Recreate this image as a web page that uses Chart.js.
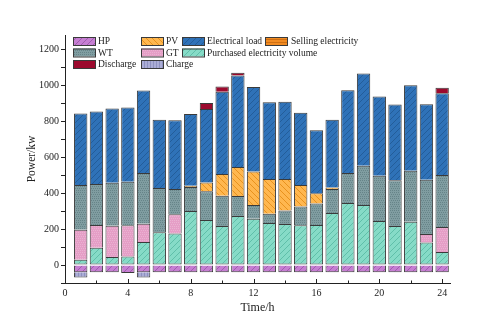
<!DOCTYPE html>
<html>
  <head>
    <title>Power balance - stacked bars</title>
    <script src="https://cdn.jsdelivr.net/npm/chart.js@4.4.0/dist/chart.umd.min.js"></script>
    <style>body{margin:0;background:#fff}</style>
  </head>
  <body>
    <canvas id="myChart" width="485" height="335"></canvas>
  </body>
  <script>
    // values (kW)
    const hours = [1,2,3,4,5,6,7,8,9,10,11,12,13,14,15,16,17,18,19,20,21,22,23,24]
    const purchased = [30,96,45,48,128,182,176,301,250,217,273,258,234,228,221,223,290,345,334,245,217,241,126,72]
    const gt = [167,127,174,173,102,0,106,0,0,0,0,0,0,0,0,0,0,0,0,0,0,0,47,140]
    const wt = [249,228,239,243,282,247,141,133,160,169,111,76,52,76,104,119,133,167,218,252,255,283,301,289]
    const pv = [0,0,0,0,0,0,0,7,49,121,162,186,193,175,121,57,9,0,0,0,0,0,0,0]
    const selling = [0,0,0,0,0,0,0,0,0,0,0,0,0,0,0,0,0,0,0,0,0,0,0,0]
    const load = [397,403,413,412,459,380,382,400,409,457,509,471,427,429,401,351,376,460,514,441,421,477,421,455]
    const discharge = [0,0,0,0,0,0,0,0,33,29,15,0,0,0,0,0,0,0,0,0,0,0,0,30]
    const hp = [-40,-40,-40,-45,-40,-40,-40,-40,-40,-40,-40,-40,-40,-40,-40,-40,-40,-40,-40,-40,-40,-40,-40,-40]
    const charge = [-30,0,0,0,-30,0,0,0,0,0,0,0,0,0,0,0,0,0,0,0,0,0,0,0]
    const yTicks = [0,200,400,600,800,1000,1200]
    const xTicks = [0,4,8,12,16,20,24]

    const ctx = document.getElementById('myChart').getContext('2d')

    function pattern(bg, fg, kind) {
      const c = document.createElement('canvas')
      c.width = 6
      c.height = 6
      const g = c.getContext('2d')
      g.fillStyle = bg
      g.fillRect(0, 0, 6, 6)
      g.strokeStyle = fg
      g.fillStyle = fg
      g.lineWidth = 1
      g.beginPath()
      if (kind === '/') {
        g.moveTo(-1, 7); g.lineTo(7, -1)
        g.moveTo(-4, 4); g.lineTo(4, -4)
        g.moveTo(2, 10); g.lineTo(10, 2)
        g.stroke()
      } else if (kind === '\\') {
        g.moveTo(-1, -1); g.lineTo(7, 7)
        g.moveTo(-4, 2); g.lineTo(4, 10)
        g.moveTo(2, -4); g.lineTo(10, 4)
        g.stroke()
      } else if (kind === '|') {
        g.fillRect(0, 0, 1, 6); g.fillRect(3, 0, 1, 6)
      } else if (kind === '-') {
        g.fillRect(0, 0, 6, 1); g.fillRect(0, 3, 6, 1)
      } else if (kind === '.') {
        for (let i = 0; i < 6; i += 2)
          for (let j = 0; j < 6; j += 2) g.fillRect(i + (j % 4 ? 1 : 0), j, 1, 1)
      }
      return ctx.createPattern(c, 'repeat')
    }

    const pts = arr => hours.map((h, i) => ({ x: h, y: arr[i] }))
    const edge = '#3a3a3a'
    const bar = (label, arr, fill, extra) => Object.assign({
      label, data: pts(arr), backgroundColor: fill,
      borderColor: edge, borderWidth: 1,
    }, extra || {})

    const datasets = [
      bar('Purchased electricity volume', purchased, pattern('#86dbc7', '#5fbfa9', '/'), { borderSkipped: false }),
      bar('GT', gt, pattern('#e59ec6', '#eab2d2', '.')),
      bar('WT', wt, pattern('#809da1', '#668488', '.')),
      bar('PV', pv, pattern('#ffb74f', '#e8921e', '\\')),
      bar('Selling electricity', selling, pattern('#f18b22', '#cf6f12', '-')),
      bar('Electrical load', load, pattern('#2f72b8', '#235d9a', '/')),
      bar('Discharge', discharge, '#9c0a2e'),
      bar('HP', hp, pattern('#c67fd2', '#a25cb0', '/')),
      bar('Charge', charge, pattern('#abadd6', '#8f91c0', '|')),
    ]

    const legendGrid = {
      id: 'legendGrid',
      afterDraw(chart, args, opts) {
        const c = chart.ctx
        c.save()
        c.font = '9.5px "Liberation Serif"'
        c.textBaseline = 'middle'
        opts.items.forEach(([label, x, y, tx]) => {
          const ds = chart.data.datasets.find(d => d.label === label)
          c.fillStyle = ds.backgroundColor
          c.fillRect(x, y, 22, 8)
          c.strokeStyle = edge
          c.lineWidth = 1
          c.strokeRect(x + 0.5, y + 0.5, 22, 8)
          c.fillStyle = '#222'
          c.fillText(label, tx, y + 4.5)
        })
        c.restore()
      },
    }

    const xTickMarks = {
      id: 'xTickMarks',
      afterDraw(chart) {
        const { ctx: c, scales: { x } } = chart
        c.save()
        c.strokeStyle = '#222'
        c.lineWidth = 1
        for (let v = 0; v <= 24; v += 2) {
          const px = Math.round(x.getPixelForValue(v)) + 0.5
          const len = v % 4 === 0 ? 4 : 2.5
          c.beginPath()
          c.moveTo(px, x.top)
          c.lineTo(px, x.top - len)
          c.stroke()
        }
        c.restore()
      },
    }

    const serif = '"Liberation Serif", "Times New Roman", serif'

    new Chart(ctx, {
      type: 'bar',
      data: { datasets },
      options: {
        responsive: false,
        animation: false,
        layout: { padding: { top: 35, right: 35, left: 0, bottom: 0 } },
        datasets: { bar: { barPercentage: 0.85, categoryPercentage: 1 } },
        scales: {
          x: {
            type: 'linear', stacked: true, min: 0, max: 24.5, offset: false,
            grid: { display: false, drawTicks: false },
            border: { display: true, color: '#222', width: 1 },
            afterBuildTicks: s => { s.ticks = xTicks.map(v => ({ value: v })) },
            ticks: { padding: 4, color: '#222', font: { family: serif, size: 10 }, maxRotation: 0, autoSkip: false },
            title: { display: true, text: 'Time/h', color: '#222', font: { family: serif, size: 12 }, padding: { top: 0, bottom: 20 } },
            afterFit: s => { s.height = 52 },
          },
          y: {
            stacked: true, min: -100, max: 1280,
            grid: { drawOnChartArea: false, drawTicks: true, tickLength: 4, color: '#222' },
            border: { display: true, color: '#222', width: 1 },
            ticks: {
              stepSize: 100, includeBounds: false, autoSkip: false, padding: 2,
              color: '#222', font: { family: serif, size: 10 },
              callback: v => yTicks.includes(v) ? v : '',
            },
            title: { display: true, text: 'Power/kw', color: '#222', font: { family: serif, size: 11.5 }, padding: { top: 25, bottom: 0 } },
            afterFit: s => { s.width = 65 },
          },
        },
        plugins: {
          legend: { display: false },
          tooltip: { enabled: false },
          legendGrid: {
            items: [
              ['HP', 73, 37, 98],
              ['WT', 73, 48.5, 98],
              ['Discharge', 73, 60, 98],
              ['PV', 141, 37, 166],
              ['GT', 141, 48.5, 166],
              ['Charge', 141, 60, 166],
              ['Electrical load', 182, 37, 207],
              ['Purchased electricity volume', 182, 48.5, 207],
              ['Selling electricity', 265, 37, 291],
            ],
          },
        },
      },
      plugins: [legendGrid, xTickMarks],
    })
  </script>
</html>
